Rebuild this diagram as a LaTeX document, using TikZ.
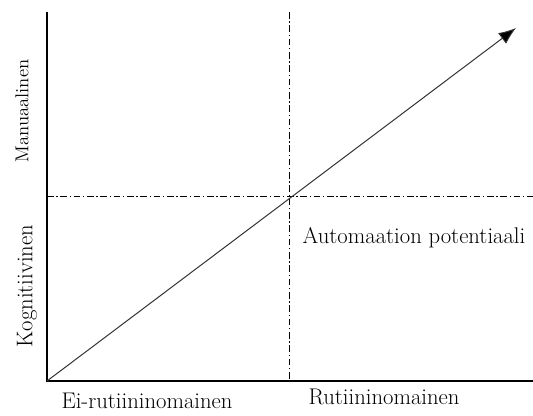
\documentclass[tikz,border=0pt]{standalone}
\usetikzlibrary{arrows.meta, positioning}
\tikzset{
  every picture/.style={x=0.75pt, y=-0.75pt},
  axis/.style={draw=black, line width=1.1pt},
  divider/.style={draw=black, line width=0.6pt, dash pattern=on 5pt off 2pt on 1pt off 2pt},
  trend/.style={draw=black!80, line width=0.75pt, -{Latex[length=13pt, width=10pt, fill=black]}},
  lbl/.style={font=\fontsize{17}{20}\selectfont, inner sep=0pt},
}
\begin{document}
\begin{tikzpicture}
  \useasboundingbox (0,0) rectangle (533,415);
  % axes
  \coordinate (o) at (47,381);
  \coordinate (ytop) at (47,12);
  \coordinate (xend) at (533,381);
  \draw[axis] (ytop) -- (o) -- (xend);
  % quadrant dividers
  \coordinate (vtop) at (289,12);
  \coordinate (vbot) at (289,381);
  \coordinate (hleft) at (47,196);
  \coordinate (hright) at (533,196);
  \draw[divider] (vtop) -- (vbot);
  \draw[divider] (hleft) -- (hright);
  % potential
  \coordinate (tip) at (516,28);
  \draw[trend] (o) -- (tip);
  \node[lbl] (pot) at (414,238) {Automaation potentiaali};
  % axis labels
  \node[lbl, rotate=90, font=\fontsize{14}{16}\selectfont] (man) at (22,111) {Manuaalinen};
  \node[lbl, rotate=90] (kog) at (27,286) {Kognitiivinen};
  \node[lbl] (ei) at (147,401) {Ei-rutiininomainen};
  \node[lbl] (rut) at (384,397) {Rutiininomainen};
\end{tikzpicture}
\end{document}
